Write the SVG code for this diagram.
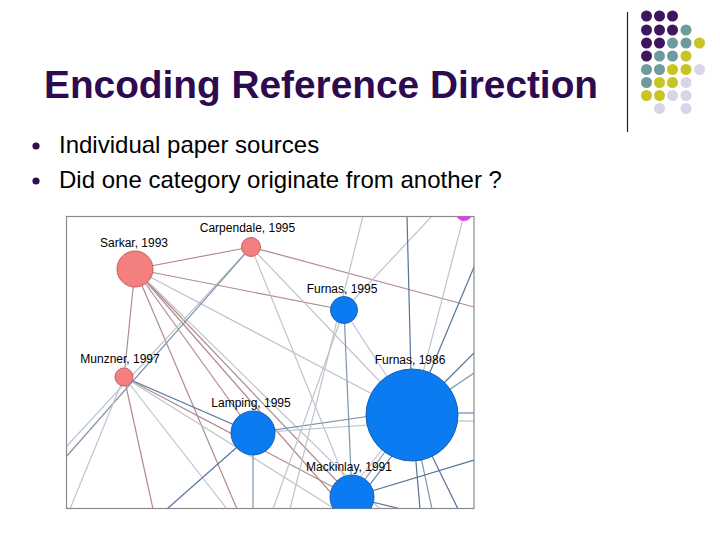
<svg xmlns="http://www.w3.org/2000/svg" width="720" height="540" viewBox="0 0 720 540">
<style>
.title{font-family:"Liberation Sans",Arial,sans-serif;font-weight:bold;font-size:38.8px;fill:#2e0b50}
.bul{font-family:"Liberation Sans",Arial,sans-serif;font-size:24px;fill:#000}
.lbl{font-family:"Liberation Sans",Arial,sans-serif;font-size:12px;fill:#000;text-anchor:middle}
.p{fill:#3f1560}.t{fill:#6f9a9e}.y{fill:#c7c424}.l{fill:#d6d6e6}
.e{fill:none;stroke-width:1.2}
.pk{stroke:#b08a8e}.gr{stroke:#bfc3cc}.bg{stroke:#7d93ad}.db{stroke:#53739a}.gn{stroke:#9cc08a}
.pn{fill:#f47f7f;stroke:#c45f62;stroke-width:1}
.bn{fill:#0a7bf0;stroke:#1a5fb0;stroke-width:1}
</style>
<defs>
<clipPath id="gclip"><rect x="66.5" y="216.5" width="407.5" height="292"/></clipPath>
</defs>
<rect width="720" height="540" fill="#fff"/>
<g id="deco">
<line x1="627.5" y1="12" x2="627.5" y2="132" stroke="#222" stroke-width="1.2"/>
<circle class="p" cx="646.5" cy="16" r="5.5"/><circle class="p" cx="659.5" cy="16" r="5.5"/><circle class="p" cx="672.5" cy="16" r="5.5"/>
<circle class="p" cx="646.5" cy="30" r="5.5"/><circle class="p" cx="659.5" cy="30" r="5.5"/><circle class="p" cx="672.5" cy="30" r="5.5"/><circle class="t" cx="686" cy="30" r="5.5"/>
<circle class="p" cx="646.5" cy="43" r="5.5"/><circle class="p" cx="659.5" cy="43" r="5.5"/><circle class="t" cx="672.5" cy="43" r="5.5"/><circle class="t" cx="686" cy="43" r="5.5"/><circle class="y" cx="699.5" cy="43" r="5.5"/>
<circle class="p" cx="646.5" cy="56" r="5.5"/><circle class="t" cx="659.5" cy="56" r="5.5"/><circle class="t" cx="672.5" cy="56" r="5.5"/><circle class="y" cx="686" cy="56" r="5.5"/>
<circle class="t" cx="646.5" cy="69.5" r="5.5"/><circle class="t" cx="659.5" cy="69.5" r="5.5"/><circle class="y" cx="672.5" cy="69.5" r="5.5"/><circle class="y" cx="686" cy="69.5" r="5.5"/><circle class="l" cx="699.5" cy="69.5" r="5.5"/>
<circle class="t" cx="646.5" cy="82.5" r="5.5"/><circle class="y" cx="659.5" cy="82.5" r="5.5"/><circle class="y" cx="672.5" cy="82.5" r="5.5"/><circle class="l" cx="686" cy="82.5" r="5.5"/>
<circle class="y" cx="646.5" cy="95.5" r="5.5"/><circle class="y" cx="659.5" cy="95.5" r="5.5"/><circle class="l" cx="672.5" cy="95.5" r="5.5"/><circle class="l" cx="686" cy="95.5" r="5.5"/>
<circle class="l" cx="659.5" cy="108.5" r="5.5"/><circle class="l" cx="686" cy="108.5" r="5.5"/>
</g>
<text class="title" x="44" y="98">Encoding Reference Direction</text>
<g id="bullets">
<circle cx="36" cy="146" r="3.6" fill="#2e1050"/>
<circle cx="36" cy="181" r="3.6" fill="#2e1050"/>
<text class="bul" x="59" y="153">Individual paper sources</text>
<text class="bul" x="59" y="188">Did one category originate from another ?</text>
</g>
<g id="graph">
<rect x="66.5" y="216.5" width="407.5" height="292" fill="#fff"/>
<g id="connectors" clip-path="url(#gclip)">
<line class="e pk" x1="135" y1="269" x2="251" y2="247"/>
<line class="e pk" x1="135" y1="269" x2="344" y2="310"/>
<line class="e gr" x1="135" y1="269" x2="412" y2="415"/>
<line class="e pk" x1="135" y1="269" x2="124" y2="377"/>
<line class="e pk" x1="135" y1="269" x2="253" y2="433"/>
<line class="e pk" x1="135" y1="269" x2="352" y2="497"/>
<line class="e pk" x1="135" y1="269" x2="237" y2="509"/>
<line class="e pk" x1="135" y1="269" x2="345" y2="509"/>
<line class="e gr" x1="135" y1="269" x2="380" y2="509"/>
<line class="e gr" x1="251" y1="247" x2="66" y2="447"/>
<line class="e bg" x1="251" y1="247" x2="66" y2="457"/>
<line class="e pk" x1="251" y1="247" x2="474" y2="307"/>
<line class="e gr" x1="251" y1="247" x2="412" y2="415"/>
<line class="e gr" x1="251" y1="247" x2="352" y2="497"/>
<line class="e db" x1="124" y1="377" x2="253" y2="433"/>
<line class="e gr" x1="124" y1="377" x2="70" y2="509"/>
<line class="e pk" x1="124" y1="377" x2="153" y2="509"/>
<line class="e gr" x1="124" y1="377" x2="227" y2="509"/>
<line class="e pk" x1="124" y1="377" x2="352" y2="497"/>
<line class="e gr" x1="124" y1="377" x2="335" y2="509"/>
<line class="e db" x1="253" y1="433" x2="167" y2="509"/>
<line class="e bg" x1="253" y1="433" x2="253" y2="509"/>
<line class="e bg" x1="253" y1="433" x2="412" y2="410"/>
<line class="e gr" x1="253" y1="433" x2="412" y2="422"/>
<line class="e gr" x1="344" y1="310" x2="432" y2="216"/>
<line class="e gr" x1="363" y1="216" x2="290" y2="509"/>
<line class="e bg" x1="344" y1="310" x2="352" y2="497"/>
<line class="e gr" x1="344" y1="310" x2="412" y2="415"/>
<line class="e gr" x1="344" y1="310" x2="273" y2="509"/>
<line class="e db" x1="407" y1="216" x2="412" y2="415"/>
<line class="e gr" x1="464" y1="215" x2="412" y2="415"/>
<line class="e db" x1="474" y1="267" x2="412" y2="415"/>
<line class="e db" x1="474" y1="353" x2="412" y2="415"/>
<line class="e bg" x1="474" y1="373" x2="412" y2="415"/>
<line class="e db" x1="474" y1="413" x2="412" y2="413"/>
<line class="e gn" x1="474" y1="421" x2="412" y2="421"/>
<line class="e db" x1="412" y1="415" x2="420" y2="509"/>
<line class="e bg" x1="412" y1="415" x2="432" y2="509"/>
<line class="e db" x1="412" y1="415" x2="458" y2="509"/>
<line class="e bg" x1="412" y1="415" x2="352" y2="497"/>
<line class="e db" x1="420" y1="420" x2="360" y2="497"/>
<line class="e gr" x1="405" y1="420" x2="345" y2="497"/>
<line class="e db" x1="474" y1="460" x2="352" y2="497"/>
<line class="e db" x1="352" y1="497" x2="405" y2="510"/>
</g>
<rect x="66.5" y="216.5" width="407.5" height="292" fill="none" stroke="#8a8a8a" stroke-width="1.2"/>
<g clip-path="url(#gclip)">
<g id="n-sarkar"><circle class="pn" cx="135" cy="269" r="18"/><text class="lbl" x="134" y="247">Sarkar, 1993</text></g>
<g id="n-carpendale"><circle class="pn" cx="251" cy="247" r="9.5"/><text class="lbl" x="247.5" y="232">Carpendale, 1995</text></g>
<g id="n-munzner"><circle class="pn" cx="124" cy="377" r="9"/><text class="lbl" x="120" y="363">Munzner, 1997</text></g>
<g id="n-furnas95"><circle class="bn" cx="344" cy="310" r="13.5"/><text class="lbl" x="342" y="293">Furnas, 1995</text></g>
<g id="n-lamping"><circle class="bn" cx="253" cy="433" r="22"/><text class="lbl" x="251" y="407">Lamping, 1995</text></g>
<g id="n-furnas86"><circle class="bn" cx="412" cy="415" r="46"/><text class="lbl" x="410" y="363.5">Furnas, 1986</text></g>
<g id="n-mackinlay"><circle class="bn" cx="352" cy="497" r="22"/><text class="lbl" x="349" y="471">Mackinlay, 1991</text></g>
<g id="n-top"><circle cx="464" cy="213" r="8" fill="#e23ee6"/></g>
</g>
</g>
</svg>
